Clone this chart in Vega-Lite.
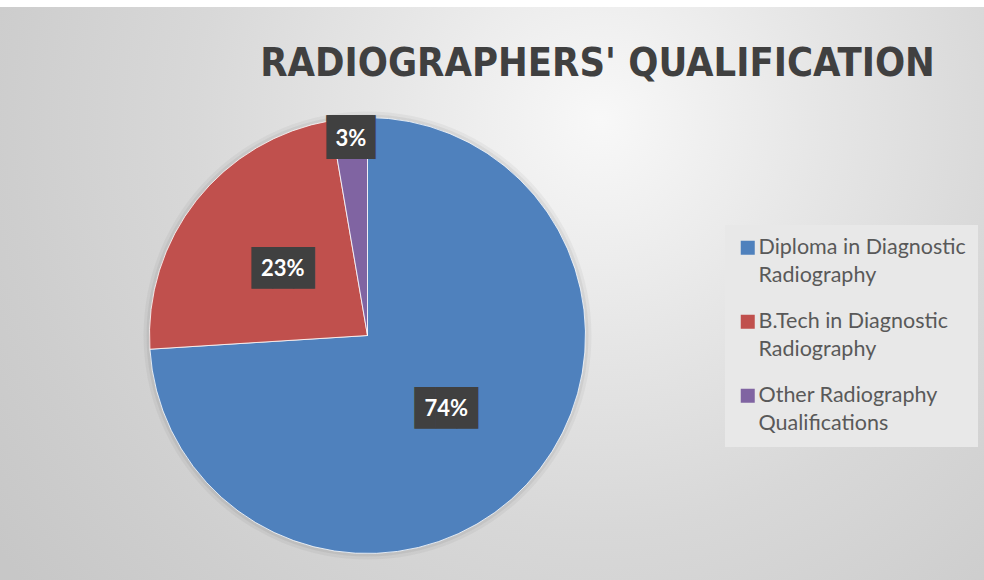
{
  "$schema": "https://vega.github.io/schema/vega-lite/v6.json",
  "autosize": "none",
  "width": 1233,
  "height": 657,
  "padding": {"left": -249, "top": 7, "right": 0, "bottom": -84},
  "background": "#ffffff",
  "config": {"style": {"guide-label": {"lineHeight": 28}}},
  "title": {
    "text": "RADIOGRAPHERS' QUALIFICATION",
    "frame": "group",
    "anchor": "middle",
    "dx": 230,
    "dy": 124,
    "offset": 16,
    "baseline": "alphabetic",
    "font": "DejaVu Sans Condensed, sans-serif",
    "fontSize": 39.5,
    "fontWeight": "bold",
    "color": "#404040"
  },
  "data": {
    "values": [
      {"qualification": "Diploma in Diagnostic Radiography", "share": 0.740},
      {"qualification": "B.Tech in Diagnostic Radiography", "share": 0.233},
      {"qualification": "Other Radiography Qualifications", "share": 0.027}
    ]
  },
  "layer": [
    {
      "data": {"values": [{}]},
      "mark": {
        "type": "rect",
        "strokeWidth": 0,
        "fill": {
          "gradient": "radial",
          "x1": 0.689, "y1": 0.325, "r1": 0,
          "x2": 0.689, "y2": 0.325, "r2": 0.6,
          "stops": [
            {"offset": 0, "color": "#f8f8f8"},
            {"offset": 0.3, "color": "#e6e6e6"},
            {"offset": 0.55, "color": "#d8d8d8"},
            {"offset": 0.8, "color": "#cecece"},
            {"offset": 1, "color": "#c7c7c7"}
          ]
        }
      },
      "encoding": {}
    },
    {
      "data": {"values": [{}]},
      "mark": {"type": "arc", "outerRadius": 224, "fill": "#000000", "opacity": 0.04},
      "encoding": {}
    },
    {
      "data": {"values": [{}]},
      "mark": {"type": "arc", "outerRadius": 221, "fill": "#000000", "opacity": 0.05},
      "encoding": {}
    },
    {
      "mark": {"type": "arc", "outerRadius": 218, "stroke": "#ffffff", "strokeWidth": 0.8},
      "encoding": {
        "theta": {"field": "share", "type": "quantitative", "stack": true},
        "order": {"field": "share", "sort": "descending"},
        "color": {
          "field": "qualification",
          "type": "nominal",
          "sort": null,
          "scale": {
            "domain": ["Diploma in Diagnostic Radiography", "B.Tech in Diagnostic Radiography", "Other Radiography Qualifications"],
            "range": ["#4f81bd", "#c0504d", "#8064a2"]
          },
          "legend": {
            "title": null,
            "orient": "none",
            "legendX": 974,
            "legendY": 218,
            "fillColor": "#e8e8e8",
            "padding": 12,
            "symbolType": "square",
            "symbolSize": 196,
            "symbolStrokeWidth": 0,
            "labelFont": "Lato",
            "labelFontSize": 21.5,
            "labelColor": "#595959",
            "labelLimit": 300,
            "labelOffset": 0,
            "rowPadding": 23,
            "labelExpr": "datum.label == 'Diploma in Diagnostic Radiography' ? ['Diploma in Diagnostic', 'Radiography'] : datum.label == 'B.Tech in Diagnostic Radiography' ? ['B.Tech in Diagnostic', 'Radiography'] : ['Other Radiography', 'Qualifications']"
          }
        }
      }
    },
    {
      "mark": {"type": "text", "radius": 108, "font": "DejaVu Sans Mono", "fontSize": 35, "color": "#404040", "baseline": "middle", "align": "center"},
      "encoding": {
        "theta": {"field": "share", "type": "quantitative", "stack": true},
        "order": {"field": "share", "sort": "descending"},
        "text": {"value": "███"},
        "opacity": {"condition": {"test": "datum.share < 0.05", "value": 0}, "value": 1}
      }
    },
    {
      "mark": {"type": "text", "radius": 197, "font": "DejaVu Sans Mono", "fontSize": 37, "color": "#404040", "baseline": "middle", "align": "center"},
      "encoding": {
        "theta": {"field": "share", "type": "quantitative", "stack": true},
        "order": {"field": "share", "sort": "descending"},
        "text": {"value": "▕██▏"},
        "opacity": {"condition": {"test": "datum.share < 0.05", "value": 1}, "value": 0}
      }
    },
    {
      "mark": {"type": "text", "radius": 108, "font": "Lato", "fontSize": 22, "fontWeight": "bold", "color": "#ffffff", "baseline": "middle", "align": "center"},
      "encoding": {
        "theta": {"field": "share", "type": "quantitative", "stack": true},
        "order": {"field": "share", "sort": "descending"},
        "text": {"field": "share", "type": "quantitative", "format": ".0%"},
        "opacity": {"condition": {"test": "datum.share < 0.05", "value": 0}, "value": 1}
      }
    },
    {
      "mark": {"type": "text", "radius": 197, "font": "Lato", "fontSize": 22, "fontWeight": "bold", "color": "#ffffff", "baseline": "middle", "align": "center"},
      "encoding": {
        "theta": {"field": "share", "type": "quantitative", "stack": true},
        "order": {"field": "share", "sort": "descending"},
        "text": {"field": "share", "type": "quantitative", "format": ".0%"},
        "opacity": {"condition": {"test": "datum.share < 0.05", "value": 1}, "value": 0}
      }
    }
  ]
}
